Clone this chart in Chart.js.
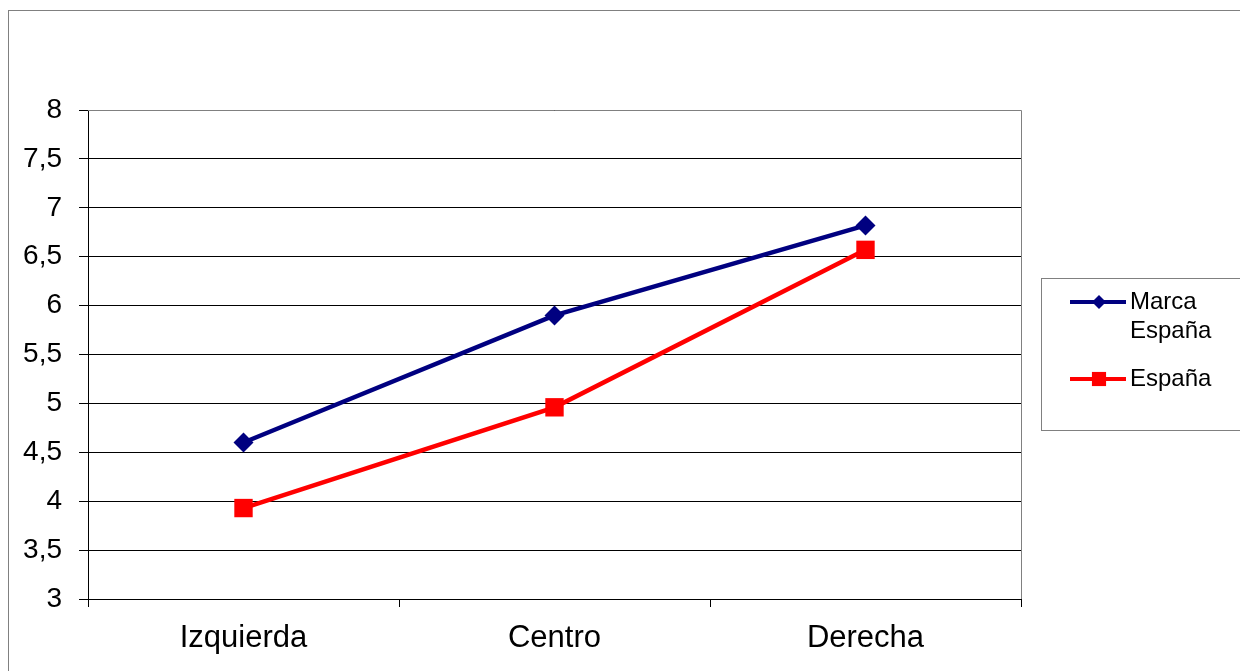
<!DOCTYPE html>
<html>
<head>
<meta charset="utf-8">
<script src="https://cdn.jsdelivr.net/npm/chart.js@4/dist/chart.umd.min.js"></script>
<style>
  html, body { margin: 0; padding: 0; background: #fff; }
  #wrap { width: 1240px; height: 671px; }
</style>
</head>
<body>
<div id="wrap"><canvas id="chart" width="1240" height="671"></canvas></div>
<script>
// datos
var categories = ['Izquierda', 'Centro', 'Derecha'];
var marcaEspana = [4.6, 5.9, 6.82];
var espana = [3.93, 4.96, 6.57];
var legendLines = [['Marca', 'España'], ['España']];
var yMin = 3, yMax = 8, yStep = 0.5;

var FONT = '"Liberation Sans", Arial, sans-serif';

// marco exterior del gráfico
var frame = {
  id: 'frame',
  beforeDraw: function(chart) {
    var ctx = chart.ctx;
    ctx.save();
    ctx.strokeStyle = '#808080';
    ctx.lineWidth = 1;
    ctx.strokeRect(8.5, 10.5, 1400, 800);
    ctx.restore();
  },
  afterDraw: function(chart) {
    var a = chart.chartArea;
    var ctx = chart.ctx;
    ctx.save();
    ctx.strokeStyle = '#808080';
    ctx.lineWidth = 1;
    ctx.beginPath();
    ctx.moveTo(a.left, a.top + 0.5);
    ctx.lineTo(a.right + 0.5, a.top + 0.5);
    ctx.lineTo(a.right + 0.5, a.bottom);
    ctx.stroke();
    ctx.restore();
  }
};

// leyenda a la derecha, con texto en dos líneas
var sideLegend = {
  id: 'sideLegend',
  afterDraw: function(chart) {
    var ctx = chart.ctx;
    ctx.save();
    ctx.strokeStyle = '#808080';
    ctx.lineWidth = 1;
    ctx.strokeRect(1041.5, 278.5, 240, 152);
    var rows = [302, 379];
    chart.data.datasets.forEach(function(ds, i) {
      var y = rows[i];
      ctx.strokeStyle = ds.borderColor;
      ctx.lineWidth = 4;
      ctx.beginPath();
      ctx.moveTo(1070, y);
      ctx.lineTo(1126, y);
      ctx.stroke();
      ctx.fillStyle = ds.backgroundColor;
      Chart.helpers.drawPoint(ctx, {
        pointStyle: ds.pointStyle,
        radius: ds.legendRadius,
        rotation: 0,
        borderWidth: 0
      }, 1099, y);
      ctx.fillStyle = '#000';
      ctx.font = '24px ' + FONT;
      ctx.textBaseline = 'middle';
      ctx.textAlign = 'left';
      legendLines[i].forEach(function(t, k) {
        ctx.fillText(t, 1130, y + k * 29);
      });
    });
    ctx.restore();
  }
};

new Chart(document.getElementById('chart'), {
  type: 'line',
  data: {
    labels: categories,
    datasets: [
      {
        label: 'Marca España',
        data: marcaEspana,
        borderColor: '#000080',
        backgroundColor: '#000080',
        borderWidth: 4.5,
        pointStyle: 'rectRot',
        pointRadius: 10,
        pointBorderWidth: 0,
        legendRadius: 7,
        tension: 0
      },
      {
        label: 'España',
        data: espana,
        borderColor: '#ff0000',
        backgroundColor: '#ff0000',
        borderWidth: 4.5,
        pointStyle: 'rect',
        pointRadius: 13,
        pointBorderWidth: 0,
        legendRadius: 10,
        tension: 0
      }
    ]
  },
  options: {
    responsive: false,
    animation: false,
    layout: { padding: { left: 0, top: 110, right: 219, bottom: 0 } },
    plugins: {
      legend: { display: false },
      tooltip: { enabled: false }
    },
    scales: {
      x: {
        offset: true,
        afterFit: function(s) { s.height = 72; },
        border: { color: '#000', width: 1 },
        grid: {
          offset: true,
          drawOnChartArea: false,
          drawTicks: true,
          tickLength: 8,
          color: '#000'
        },
        ticks: {
          color: '#000',
          padding: 13,
          font: { family: FONT, size: 31 }
        }
      },
      y: {
        min: yMin,
        max: yMax,
        afterFit: function(s) { s.width = 88; },
        border: { color: '#000', width: 1 },
        grid: {
          color: '#000',
          lineWidth: 1,
          tickLength: 9
        },
        ticks: {
          stepSize: yStep,
          color: '#000',
          padding: 17,
          font: { family: FONT, size: 28 },
          callback: function(v) { return String(v).replace('.', ','); }
        }
      }
    }
  },
  plugins: [frame, sideLegend]
});
</script>
</body>
</html>
